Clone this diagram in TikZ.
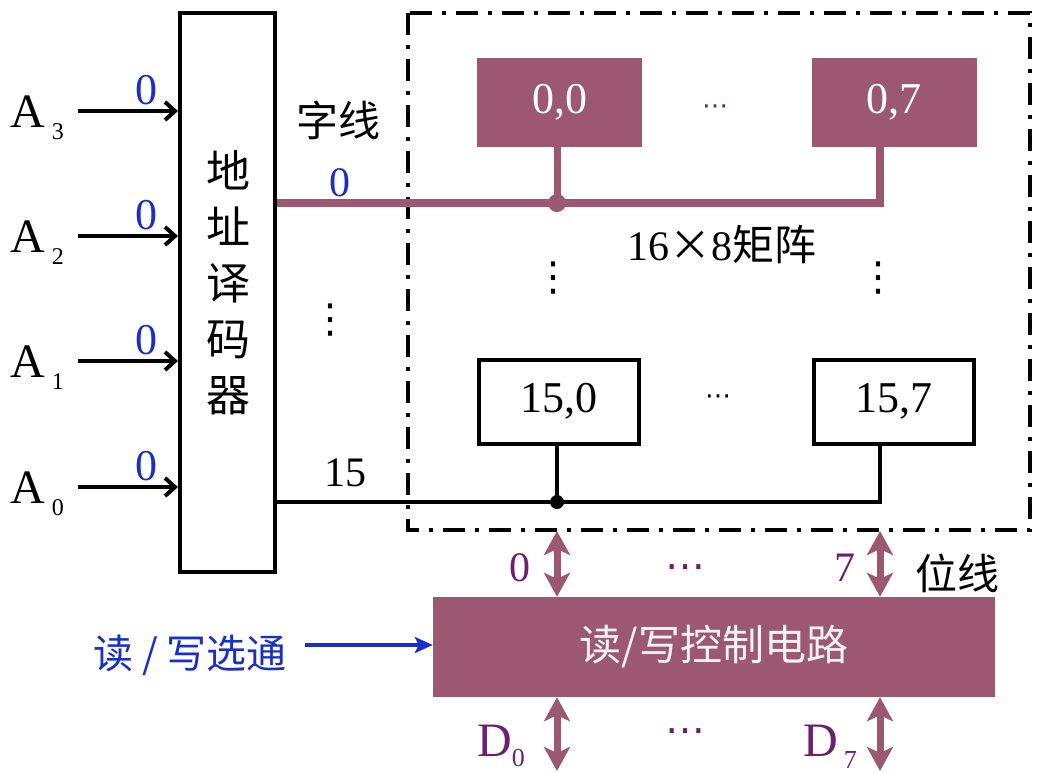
\documentclass[tikz,border=0pt]{standalone}
\usepackage{fontspec}
\setmainfont{Liberation Serif}
\newfontfamily\cjk{Noto Sans CJK SC}
\newfontfamily\symf{DejaVu Sans}
\usetikzlibrary{arrows.meta, positioning, calc}
\usepackage{xcolor}
\definecolor{mMauve} {HTML}{9C5870}
\definecolor{mPurple}{HTML}{6E1E6E}
\definecolor{mBlue}  {HTML}{1A2FC8}
\newcommand{\fsz}[1]{\fontsize{#1}{#1}\selectfont}
\newcommand{\addr}[1]{A\hspace{7pt}\raisebox{-12pt}{\fsz{24}#1}}

\begin{document}
\begin{tikzpicture}[x=1pt, y=-1pt,
    every node/.style={inner sep=0pt},
    cellon/.style={fill=mMauve, text=white, minimum width=165pt,
                   minimum height=89pt, font=\fsz{44}},
    celloff/.style={draw, line width=4pt, fill=white, minimum width=160pt,
                    minimum height=84pt, font=\fsz{44}},
    bus/.style={mMauve, line width=7pt,
                {Stealth[length=24pt,width=26pt,inset=6pt]}-{Stealth[length=24pt,width=26pt,inset=6pt]}},
    inarrow/.style={line width=4pt, -{Straight Barb[length=10pt,width=18pt]}},
    bitlabel/.style={text=mPurple, font=\fsz{42}}]
    \useasboundingbox (0,0) rectangle (1045,772);

    % address decoder
    \node[draw, line width=4pt, minimum width=95pt, minimum height=559pt]
          (dec) at (227.5,292.5) {};
    \node[font=\cjk\fsz{44}, align=center]
          (dectext) at (228,283) {地\\[12pt]址\\[12pt]译\\[12pt]码\\[12pt]器};

    % address inputs
    \foreach \i/\y in {3/111, 2/236, 1/361, 0/487} {
      \node[anchor=base west, font=\fsz{48}] (a\i) at (10,\y+16) {\addr{\i}};
      \coordinate (in\i) at (78,\y);
      \draw[inarrow] (in\i) -- (dec.west |- in\i);
      \node[text=mBlue, font=\fsz{44}] (v\i) at (146,\y-21) {0};
    }

    % storage matrix
    \draw[line width=4pt, dash pattern=on 22pt off 10pt on 4pt off 10pt]
          (408,13) rectangle (1030,530);
    \node[cellon] (c00) at (559.5,102.5) {0,0};
    \node[cellon] (c07) at (894,102.5) {0,7};
    \node[celloff] (c150) at (558.5,401.5) {15,0};
    \node[celloff] (c157) at (894,401.5) {15,7};
    \node[text=mPurple, font=\symf\fsz{26}] (dt0) at (715,110) {⋯};
    \node[font=\symf\fsz{26}] (dt15) at (718,400) {⋯};
    \node[font=\symf\fsz{40}] (vd0) at (553,278) {⋮};
    \node[font=\symf\fsz{40}] (vd7) at (878,278) {⋮};
    \node[font=\fsz{42}] (mat) at (722,245) {16{\cjk ×}8{\cjk 矩阵}};

    % word lines
    \coordinate (j0) at (557,203);
    \coordinate (e0) at (880,203);
    \coordinate (j15) at (557,502);
    \coordinate (e15) at (880,502);
    \draw[mMauve, line width=8pt] (dec.east |- j0) -- (e0) -- (c07.south -| e0);
    \draw[mMauve, line width=7pt] (c00.south -| j0) -- (j0);
    \fill[mMauve] (j0) circle (9pt);
    \draw[line width=4pt] (dec.east |- j15) -- (e15) -- (c157.south -| e15);
    \draw[line width=4pt] (c150.south -| j15) -- (j15);
    \fill (j15) circle (7pt);
    \node[font=\cjk\fsz{42}] (zx) at (338,120) {字线};
    \node[text=mBlue, font=\fsz{42}] (w0) at (340,183) {0};
    \node[font=\symf\fsz{40}] (vdw) at (330,320) {⋮};
    \node[font=\fsz{42}] (w15) at (345,473) {15};

    % read/write control
    \node[fill=mMauve, text=white!92!mMauve, minimum width=562pt,
          minimum height=100pt, font=\cjk\fsz{42}] (rwc) at (714,647)
          {读/写控制电路};
    \node[text=mBlue, font=\cjk\fsz{40}] (rw) at (190,655) {读 / 写选通};
    \coordinate (rwin) at (305,645);
    \draw[mBlue, line width=4pt, -{Stealth[length=18pt,width=16pt,inset=4pt]}]
          (rwin) -- (rwc.west |- rwin);

    % bit lines and data lines
    \coordinate (b0) at (557,531);
    \coordinate (b7) at (880,531);
    \coordinate (d0) at (557,771);
    \coordinate (d7) at (880,771);
    \draw[bus] (b0) -- (b0 |- rwc.north);
    \draw[bus] (b7) -- (b7 |- rwc.north);
    \draw[bus] (b0 |- rwc.south) -- (d0);
    \draw[bus] (b7 |- rwc.south) -- (d7);
    \node[bitlabel] (l0) at (520,568) {0};
    \node[bitlabel] (l7) at (845,568) {7};
    \node[text=mPurple, font=\symf\fsz{40}] (dtb) at (685,572) {⋯};
    \node[font=\cjk\fsz{42}] (wx) at (957,573) {位线};
    \node[bitlabel, font=\fsz{48}, anchor=base west] (D0) at (477,756)
          {D\raisebox{-10pt}{\fsz{26}0}};
    \node[bitlabel, font=\fsz{48}, anchor=base west] (D7) at (803,756)
          {D\hspace{6pt}\raisebox{-12pt}{\fsz{26}7}};
    \node[text=mPurple, font=\symf\fsz{40}] (dtd) at (685,736) {⋯};
  \end{tikzpicture}
\end{document}
